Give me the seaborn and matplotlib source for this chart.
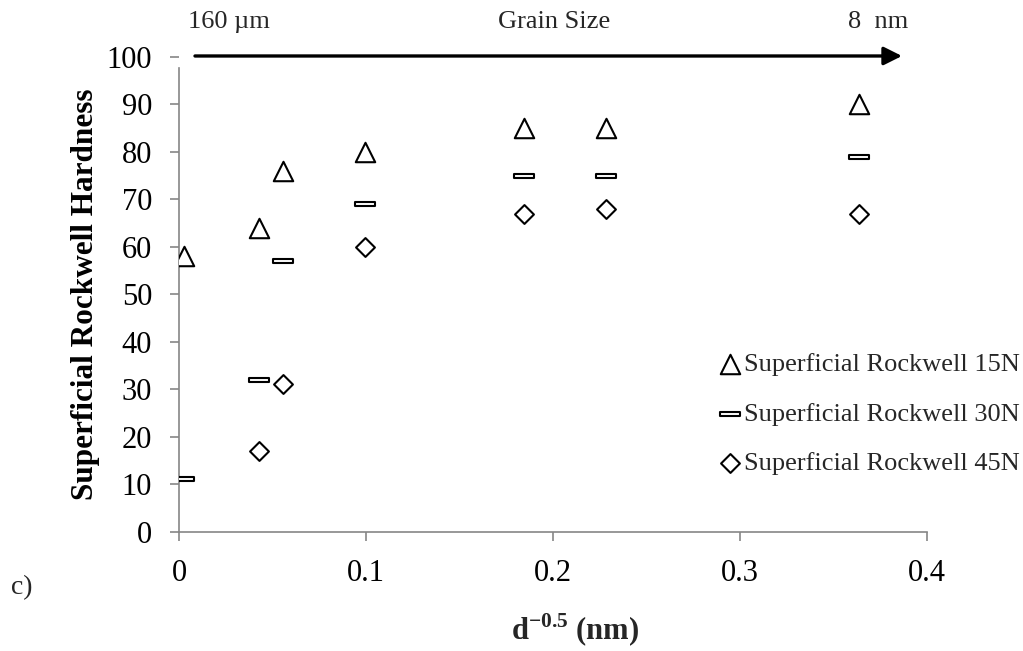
import numpy as np
import pandas as pd
import matplotlib
matplotlib.use("Agg")
import matplotlib.pyplot as plt
from matplotlib.path import Path
import seaborn as sns

# Grain-size parameter d^-0.5 (nm^-0.5) for each sample
d_inv_sqrt = [0.0025, 0.0425, 0.0555, 0.0995, 0.1845, 0.228, 0.3635]

# Superficial Rockwell hardness readings
hr15n = [58, 64, 76, 80, 85, 85, 90]
hr30n = [11, 32, 57, 69, 75, 75, 79]
hr45n = [np.nan, 17, 31, 60, 67, 68, 67]

series_names = ["Superficial Rockwell 15N",
                "Superficial Rockwell 30N",
                "Superficial Rockwell 45N"]

x_ticks = [0, 0.1, 0.2, 0.3, 0.4]
x_tick_labels = ["0", "0.1", "0.2", "0.3", "0.4"]
y_ticks = list(range(0, 101, 10))

df = pd.DataFrame({
    "d": d_inv_sqrt * 3,
    "hardness": hr15n + hr30n + hr45n,
    "scale": [s for s in series_names for _ in d_inv_sqrt],
})

sns.set_theme(style="white")
plt.rcParams["font.family"] = ["Liberation Serif", "DejaVu Serif"]
plt.rcParams["mathtext.fontset"] = "custom"
plt.rcParams["mathtext.rm"] = "Liberation Serif"
plt.rcParams["mathtext.bf"] = "Liberation Serif:bold"

axis_grey = "#868686"

fig = plt.figure(figsize=(10.23, 6.51), dpi=100)
ax = fig.add_axes([0.1753, 0.1833, 0.7309, 0.7294])

# flat bar marker for the 30N series
dash = Path([(-1, -0.19), (1, -0.19), (1, 0.19), (-1, 0.19), (-1, -0.19)],
            [Path.MOVETO, Path.LINETO, Path.LINETO, Path.LINETO, Path.CLOSEPOLY])

marker_styles = {
    series_names[0]: ("^", 14.0),
    series_names[1]: (dash, 14.0),
    series_names[2]: ("D", 9.6),
}

for name in series_names:
    mk, size = marker_styles[name]
    sub = df[df["scale"] == name].dropna()
    sns.scatterplot(data=sub, x="d", y="hardness", marker=mk, s=size ** 2,
                    color="white", edgecolor="black", linewidth=1.5,
                    ax=ax, label=name, zorder=3)

ax.set_xlim(0, 0.4)
ax.set_ylim(0, 100)
ax.set_xticks(x_ticks)
ax.set_xticklabels(x_tick_labels)
ax.set_yticks(y_ticks)
ax.set_yticklabels([str(v) for v in y_ticks])

for side in ["top", "right"]:
    ax.spines[side].set_visible(False)
for side in ["left", "bottom"]:
    ax.spines[side].set_color(axis_grey)
    ax.spines[side].set_linewidth(1.2)
ax.spines["left"].set_bounds(0, 97.6)
ax.yaxis.get_major_ticks()[-1].tick1line.set_visible(False)

ax.tick_params(axis="both", which="major", direction="out", length=6.5,
               width=1.2, color=axis_grey, labelsize=22, labelcolor="black")
ax.tick_params(axis="y", pad=13, left=True)
ax.tick_params(axis="x", pad=13.5, bottom=True)

ax.set_xlabel("")
ax.set_ylabel("Superficial Rockwell Hardness", fontsize=22.5,
              fontweight="bold", color="black")
ax.yaxis.set_label_coords(-0.106, 0.5)

fig.text(0.562, 0.016, r"d$^{\mathbf{-0.5}}$ (nm)", fontsize=22,
         fontweight="bold", ha="center", va="baseline")

leg = ax.legend(loc="upper left", bbox_to_anchor=(0.7038, 0.459),
                bbox_transform=fig.transFigure, frameon=False, fontsize=19,
                handlelength=0.75, handletextpad=0.15, labelspacing=1.0,
                borderpad=0, borderaxespad=0)

# grain-size direction arrow above the plot
ax.annotate("", xy=(0.8817, 0.914), xytext=(0.1906, 0.914),
            xycoords="figure fraction", textcoords="figure fraction",
            arrowprops=dict(arrowstyle="-|>,head_length=1.1,head_width=0.55",
                            lw=2.4, color="black", shrinkA=0, shrinkB=0,
                            mutation_scale=10))
fig.text(0.1838, 0.9667, "160 µm", fontsize=19, ha="left", va="center")
fig.text(0.5415, 0.9667, "Grain Size", fontsize=19, ha="center", va="center")
fig.text(0.8876, 0.9667, "8  nm", fontsize=19, ha="right", va="center")
fig.text(0.0215, 0.0968, "c)", fontsize=20, ha="center", va="center")

fig.savefig("out.png", dpi=100)
